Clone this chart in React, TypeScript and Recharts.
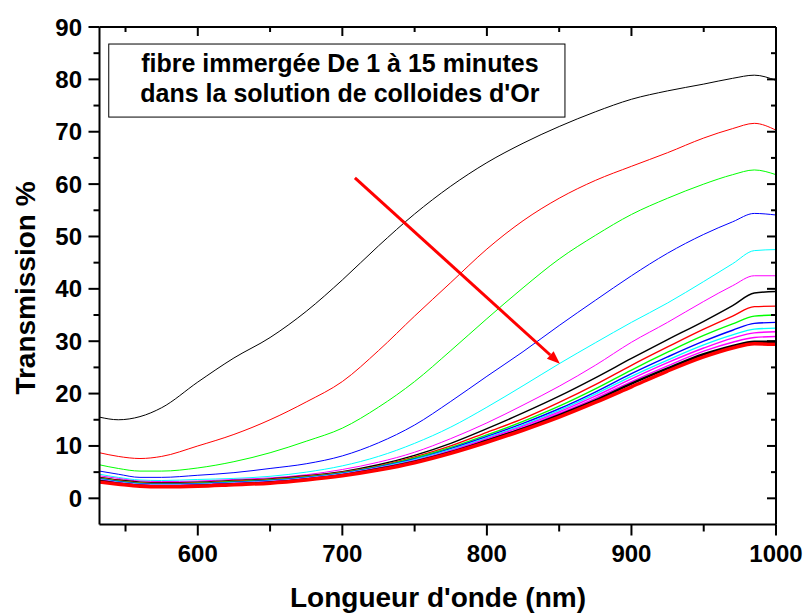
import React from 'react';
import { LineChart, Line, XAxis, YAxis, ReferenceLine, ReferenceArea } from 'recharts';

const wavelengths = [532, 545, 560, 575, 600, 625, 650, 675, 700, 725, 750, 775, 800, 825, 850, 875, 900, 925, 950, 970, 985, 1000];

const t01 = [15.5, 15.0, 15.6, 17.3, 22.2, 26.8, 30.7, 35.7, 41.7, 48.2, 54.3, 59.6, 64.1, 67.8, 71.0, 73.8, 76.2, 77.8, 79.1, 80.2, 80.8, 79.8];
const t02 = [8.7, 8.0, 7.6, 8.0, 10.0, 12.2, 15.0, 18.4, 22.3, 28.2, 34.8, 41.2, 47.6, 53.0, 57.3, 60.7, 63.4, 66.0, 68.8, 70.6, 71.6, 70.3];
const t03 = [6.4, 5.7, 5.2, 5.2, 5.8, 7.0, 8.7, 10.9, 13.4, 17.4, 22.3, 28.2, 34.3, 40.2, 45.7, 50.2, 54.2, 57.3, 60.0, 61.8, 62.7, 61.8];
const t04 = [5.2, 4.6, 4.0, 4.0, 4.4, 4.9, 5.7, 6.6, 8.1, 10.6, 14.0, 18.5, 23.3, 28.0, 33.0, 37.8, 42.5, 46.8, 50.4, 52.8, 54.4, 54.1];
const t05 = [4.6, 4.0, 3.5, 3.4, 3.6, 3.8, 4.2, 5.0, 6.2, 8.0, 10.5, 13.6, 17.4, 21.5, 25.7, 29.7, 33.6, 37.3, 41.4, 44.8, 47.3, 47.5];
const t06 = [4.3, 3.8, 3.3, 3.2, 3.3, 3.6, 3.9, 4.5, 5.5, 6.9, 8.8, 11.4, 14.4, 17.8, 21.4, 25.4, 29.8, 33.6, 37.6, 40.6, 42.5, 42.5];
const t07 = [4.0, 3.5, 3.1, 3.0, 3.1, 3.4, 3.7, 4.3, 5.1, 6.4, 8.2, 10.5, 13.3, 16.3, 19.5, 23.0, 26.7, 30.3, 33.8, 36.8, 39.2, 39.5];
const t08 = [3.9, 3.4, 3.0, 2.9, 3.0, 3.3, 3.6, 4.2, 5.0, 6.2, 7.9, 10.0, 12.6, 15.2, 18.3, 21.7, 25.4, 28.9, 32.3, 34.8, 36.6, 36.7];
const t09 = [3.8, 3.3, 2.9, 2.8, 2.9, 3.2, 3.5, 4.1, 4.9, 6.1, 7.7, 9.7, 12.1, 14.7, 17.6, 20.9, 24.5, 27.9, 31.1, 33.3, 34.8, 35.0];
const t10 = [3.7, 3.2, 2.8, 2.7, 2.8, 3.1, 3.4, 4.0, 4.8, 6.0, 7.5, 9.5, 11.8, 14.3, 17.1, 20.3, 23.8, 27.0, 30.0, 32.1, 33.4, 33.6];
const t11 = [3.6, 3.1, 2.7, 2.6, 2.7, 3.0, 3.3, 3.9, 4.7, 5.9, 7.4, 9.3, 11.6, 14.0, 16.8, 19.9, 23.3, 26.4, 29.3, 31.2, 32.3, 32.5];
const t12 = [3.5, 3.0, 2.6, 2.5, 2.6, 2.9, 3.2, 3.8, 4.6, 5.8, 7.2, 9.1, 11.4, 13.8, 16.5, 19.5, 22.8, 25.9, 28.7, 30.6, 31.6, 31.8];
const t13 = [3.4, 2.9, 2.5, 2.4, 2.5, 2.8, 3.1, 3.7, 4.5, 5.7, 7.1, 9.0, 11.2, 13.5, 16.2, 19.1, 22.3, 25.3, 28.1, 29.8, 30.7, 30.9];
const t14 = [3.3, 2.8, 2.4, 2.3, 2.4, 2.7, 3.0, 3.6, 4.4, 5.6, 7.0, 8.8, 11.0, 13.3, 15.9, 18.7, 21.9, 24.8, 27.5, 29.1, 29.9, 29.9];
const t15 = [3.1, 2.7, 2.3, 2.2, 2.3, 2.6, 2.9, 3.5, 4.3, 5.4, 6.8, 8.6, 10.7, 13.0, 15.5, 18.3, 21.3, 24.3, 27.0, 28.7, 29.5, 29.4];

const seriesValues = [t01, t02, t03, t04, t05, t06, t07, t08, t09, t10, t11, t12, t13, t14, t15];
const seriesColors = ['#000000', '#ff0000', '#00ff00', '#0000ff', '#00ffff', '#ff00ff', '#000000', '#ff0000', '#00ff00', '#0000ff', '#00ffff', '#ff00ff', '#ff00ff', '#000000', '#ff0000'];
const seriesWidths = [1, 1, 1, 1, 1, 1, 1.4, 1.4, 1.4, 1.4, 1.4, 1.4, 1.4, 2.5, 3.5];

const xTicks = [550, 600, 650, 700, 750, 800, 850, 900, 950, 1000];
const yTicks = [0, 5, 10, 15, 20, 25, 30, 35, 40, 45, 50, 55, 60, 65, 70, 75, 80, 85, 90];

const annotationLines = ['fibre immergée De 1 à 15 minutes', 'dans la solution de colloides d\'Or'];
const annotationBox = { x1: 538.4, x2: 854, y1: 72.8, y2: 86.75 };
const arrowFrom = { x: 708.7, y: 61.2 };
const arrowTo = { x: 850.5, y: 25.7 };

const xTitle = "Longueur d'onde (nm)";
const yTitle = 'Transmission %';

const data = wavelengths.map((w, i) => {
  const row: any = { w };
  seriesValues.forEach((s, k) => {
    row['s' + k] = s[i];
  });
  return row;
});

const FONT = '"Liberation Sans", Arial, sans-serif';
const TICK_FS = 24;

const BottomTick = (p: any) => {
  const { x, y, payload } = p;
  const major = payload.value % 100 === 0;
  return (
    <g>
      <line x1={x} y1={y} x2={x} y2={y + (major ? 11 : 7)} stroke="#000" strokeWidth={2} />
      {major && (
        <text x={x} y={y + 37.5} textAnchor="middle" fontSize={TICK_FS} fontWeight="bold" fontFamily={FONT} fill="#000">
          {payload.value}
        </text>
      )}
    </g>
  );
};

const TopTick = (p: any) => {
  const { x, y, payload } = p;
  const major = payload.value % 100 === 0;
  return <line x1={x} y1={y} x2={x} y2={y + (major ? 9 : 5)} stroke="#000" strokeWidth={2} />;
};

const LeftTick = (p: any) => {
  const { x, y, payload } = p;
  const major = payload.value % 10 === 0;
  return (
    <g>
      <line x1={x} y1={y} x2={x - (major ? 11 : 6)} y2={y} stroke="#000" strokeWidth={2} />
      {major && (
        <text x={x - 17.5} y={y + 8.5} textAnchor="end" fontSize={TICK_FS} fontWeight="bold" fontFamily={FONT} fill="#000">
          {payload.value}
        </text>
      )}
    </g>
  );
};

const RightTick = (p: any) => {
  const { x, y, payload } = p;
  const major = payload.value % 10 === 0;
  return <line x1={x} y1={y} x2={x - (major ? 9 : 5)} y2={y} stroke="#000" strokeWidth={2} />;
};

const ArrowShape = (p: any) => {
  const { x1, y1, x2, y2 } = p;
  const ang = Math.atan2(y2 - y1, x2 - x1);
  const len = 13;
  const hw = 5;
  const bx = x2 - len * Math.cos(ang);
  const by = y2 - len * Math.sin(ang);
  const px = -Math.sin(ang) * hw;
  const py = Math.cos(ang) * hw;
  return (
    <g>
      <line x1={x1} y1={y1} x2={bx} y2={by} stroke="#ff0000" strokeWidth={3} />
      <polygon points={`${x2},${y2} ${bx + px},${by + py} ${bx - px},${by - py}`} fill="#ff0000" />
    </g>
  );
};

const BoxShape = (p: any) => {
  const { x, y, width, height } = p;
  const cx = x + width / 2 + 3;
  return (
    <g>
      <rect x={x} y={y} width={width} height={height} fill="#fff" stroke="#000" strokeWidth={1} />
      {annotationLines.map((t, i) => (
        <text key={i} x={cx} y={y + 28 + i * 30} textAnchor="middle" fontSize={25} fontWeight="bold" fontFamily={FONT} fill="#000">
          {t}
        </text>
      ))}
    </g>
  );
};

export default function App() {
  return (
    <div style={{ position: 'absolute', left: 0, top: 0, width: 808, height: 615, background: '#fff' }}>
      <LineChart width={808} height={615} data={data} margin={{ top: 26, right: 31, bottom: 0, left: 0 }}>
        <XAxis
          dataKey="w"
          type="number"
          domain={[532, 1000]}
          ticks={xTicks}
          allowDataOverflow
          height={90.5}
          tickSize={0}
          tickMargin={0}
          tickLine={false}
          axisLine={{ stroke: '#000', strokeWidth: 2 }}
          tick={BottomTick}
          interval={0}
        />
        <XAxis
          xAxisId="top"
          orientation="top"
          dataKey="w"
          type="number"
          domain={[532, 1000]}
          ticks={xTicks}
          allowDataOverflow
          height={1}
          tickSize={0}
          tickMargin={0}
          tickLine={false}
          axisLine={{ stroke: '#000', strokeWidth: 2 }}
          tick={TopTick}
          interval={0}
        />
        <YAxis
          type="number"
          domain={[-5, 90]}
          ticks={yTicks}
          allowDataOverflow
          width={99.5}
          tickSize={0}
          tickMargin={0}
          tickLine={false}
          axisLine={{ stroke: '#000', strokeWidth: 2 }}
          tick={LeftTick}
          interval={0}
        />
        <YAxis
          yAxisId="right"
          orientation="right"
          type="number"
          domain={[-5, 90]}
          ticks={yTicks}
          allowDataOverflow
          width={1}
          tickSize={0}
          tickMargin={0}
          tickLine={false}
          axisLine={{ stroke: '#000', strokeWidth: 2 }}
          tick={RightTick}
          interval={0}
        />
        <ReferenceArea
          x1={annotationBox.x1}
          x2={annotationBox.x2}
          y1={annotationBox.y1}
          y2={annotationBox.y2}
          shape={BoxShape}
          ifOverflow="visible"
        />
        {seriesValues.map((_, k) => (
          <Line
            key={k}
            dataKey={'s' + k}
            type="monotone"
            stroke={seriesColors[k]}
            strokeWidth={seriesWidths[k]}
            dot={false}
            activeDot={false}
            isAnimationActive={false}
          />
        ))}
        <ReferenceLine
          segment={[arrowFrom, arrowTo]}
          shape={ArrowShape}
          ifOverflow="visible"
        />
      </LineChart>
      <svg width={808} height={615} style={{ position: 'absolute', left: 0, top: 0, pointerEvents: 'none' }}>
        <text x={438} y={607} textAnchor="middle" fontSize={28} fontWeight="bold" fontFamily={FONT} fill="#000">
          {xTitle}
        </text>
        <text
          x={0}
          y={0}
          transform="translate(35,288) rotate(-90)"
          textAnchor="middle"
          fontSize={28}
          fontWeight="bold"
          fontFamily={FONT}
          fill="#000"
        >
          {yTitle}
        </text>
      </svg>
    </div>
  );
}
